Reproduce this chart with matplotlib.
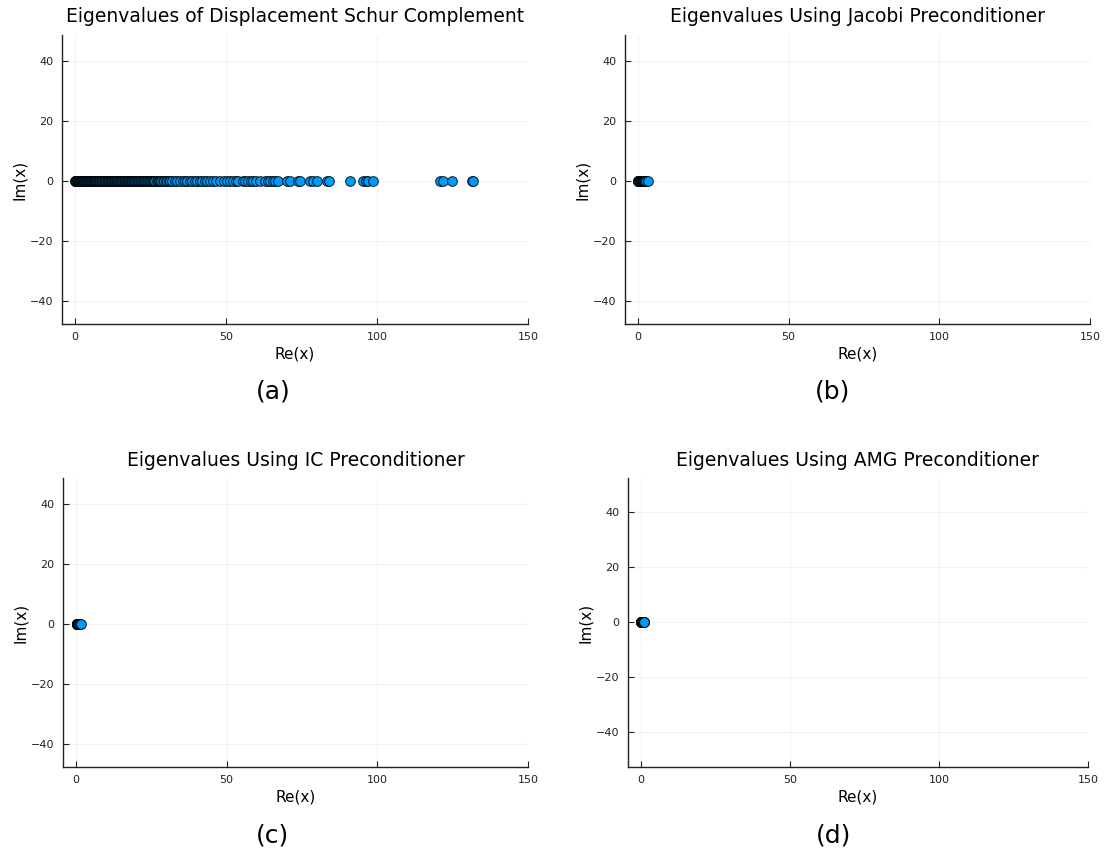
import matplotlib
matplotlib.use("Agg")
import matplotlib.pyplot as plt


schur_re = [0.02, 0.1, 0.2, 0.3, 0.4, 0.5, 0.6, 0.7, 0.8, 0.9, 1.0, 1.1, 1.2, 1.3,
            1.4, 1.5, 1.6, 1.7, 1.8, 1.9, 2.0, 2.1, 2.2, 2.3, 2.4, 2.5, 2.6, 2.7,
            2.8, 2.9, 3.0, 3.15, 3.3, 3.45, 3.6, 3.75, 3.9, 4.05, 4.2, 4.35, 4.5,
            4.65, 4.8, 4.95, 5.1, 5.25, 5.4, 5.55, 5.7, 5.85, 6.0, 6.15, 6.3, 6.45,
            6.6, 6.75, 6.9, 7.05, 7.2, 7.4, 7.6, 7.8, 8.0, 8.2, 8.4, 8.6, 8.8, 9.0,
            9.2, 9.4, 9.6, 9.8, 10.0, 10.2, 10.4, 10.6, 10.8, 11.0, 11.2, 11.4,
            11.6, 11.8, 12.0, 12.2, 12.4, 12.6, 12.8, 13.0, 13.2, 13.4, 13.6, 13.8,
            14.0, 14.2, 14.4, 14.6, 14.8, 15.0, 15.2, 15.4, 15.6, 15.8, 16.0, 16.2,
            16.4, 16.6, 16.8, 17.0, 17.2, 17.4, 17.6, 17.8, 18.0, 18.2, 18.4, 18.6,
            18.8, 19.0, 19.2, 19.4, 19.6, 19.8, 20.0, 20.25, 20.5, 20.75, 21.0,
            21.25, 21.5, 21.75, 22.0, 22.25, 22.5, 22.75, 23.0, 23.3, 23.6, 23.9,
            24.2, 24.5, 24.8, 25.1, 25.4, 25.7, 26.0, 26.3, 26.6, 27.0, 27.4, 27.8,
            28.2, 28.6, 29.0, 29.5, 30.0, 30.5, 31.0, 31.5, 32.2, 33.0, 33.8, 34.8,
            35.6, 36.4, 37.2, 38.0, 38.8, 39.7, 40.5, 41.4, 42.2, 43.0, 43.8, 44.7,
            45.7, 46.8, 48.0, 49.2, 50.3, 51.2, 52.3, 53.2, 54.0, 55.6, 56.4, 57.3,
            58.2, 59.0, 60.1, 61.3, 62.9, 63.8, 64.6, 65.4, 66.2, 67.2, 70.2, 71.2,
            73.8, 74.4, 77.8, 78.8, 80.1, 83.4, 84.0, 91.0, 95.4, 96.2, 96.9, 98.7,
            120.9, 121.8, 124.8, 131.5, 131.9]
jacobi_re = [0.0, 0.05, 0.1, 0.15, 0.2, 0.25, 0.3, 0.35, 0.4, 0.45, 0.5, 0.55, 0.6,
             0.65, 0.7, 0.75, 0.8, 0.85, 0.9, 0.95, 1.0, 1.05, 1.1, 1.15, 1.2,
             1.25, 1.3, 1.35, 1.4, 1.45, 1.5, 1.55, 1.6, 1.65, 1.7, 1.75, 1.8,
             1.85, 1.9, 1.95, 2.0, 2.1, 2.2, 2.35, 2.5, 2.8, 3.3]
ic_re = [0.25, 0.28, 0.3, 0.33, 0.35, 0.38, 0.4, 0.43, 0.45, 0.48, 0.5, 0.53,
         0.55, 0.58, 0.6, 0.63, 0.65, 0.68, 0.7, 0.73, 0.75, 0.78, 0.8, 0.83,
         0.85, 0.88, 0.9, 0.93, 0.95, 0.98, 1.0, 1.05, 1.1, 1.2, 1.4, 1.8]
amg_re = [0.0, 0.02, 0.05, 0.08, 0.1, 0.13, 0.15, 0.18, 0.2, 0.23, 0.25, 0.28,
          0.3, 0.33, 0.35, 0.38, 0.4, 0.43, 0.45, 0.48, 0.5, 0.53, 0.55, 0.58,
          0.6, 0.65, 0.7, 0.75, 0.8, 0.85, 0.9, 0.95, 1.0]

titles = ["Eigenvalues of Displacement Schur Complement",
          "Eigenvalues Using Jacobi Preconditioner",
          "Eigenvalues Using IC Preconditioner",
          "Eigenvalues Using AMG Preconditioner"]
captions = ["(a)", "(b)", "(c)", "(d)"]
xticks = [0, 50, 100, 150]
yticks = [-40, -20, 0, 20, 40]

W, H = 1105, 856
# axes boxes in pixels: left, right, top, bottom
boxes = [(62, 528, 35, 324), (625, 1090, 35, 324),
         (63, 528, 478, 767), (628, 1088, 478, 767)]
xlims = [(-4.3, 150), (-4.3, 150), (-4.3, 150), (-4.4, 150)]
ylims = [(-47.5, 48.5), (-47.5, 48.5), (-47.5, 48.5), (-52.6, 52.5)]
caption_pos = [(273, 392), (833, 392), (273, 835), (834, 835)]

fig = plt.figure(figsize=(W / 100, H / 100), dpi=100)

for i, re in enumerate([schur_re, jacobi_re, ic_re, amg_re]):
    l, r, t, b = boxes[i]
    ax = fig.add_axes([l / W, 1 - b / H, (r - l) / W, (b - t) / H])
    ax.plot(re, [0] * len(re), "o", ls="none", ms=7, color="#009AFA",
            mec=(0, 0, 0, 0.85), mew=0.7, zorder=3)
    ax.set_xlim(*xlims[i])
    ax.set_ylim(*ylims[i])
    ax.set_xticks(xticks)
    ax.set_yticks(yticks)
    ax.set_yticklabels(["\u221240", "\u221220", "0", "20", "40"])
    ax.grid(True, color="black", alpha=0.05, lw=0.8)
    ax.set_axisbelow(True)
    for pos in ["top", "right"]:
        ax.spines[pos].set_visible(False)
    for pos in ["left", "bottom"]:
        ax.spines[pos].set_linewidth(1.0)
        ax.spines[pos].set_color("#222222")
    ax.tick_params(direction="in", length=4, width=0.8, labelsize=8, pad=6,
                   colors="#222222")
    ax.set_title(titles[i], fontsize=13.5, pad=9)
    ax.set_xlabel("Re(x)", fontsize=11, labelpad=3)
    ax.set_ylabel("Im(x)", fontsize=11, labelpad=2)
    cx, cy = caption_pos[i]
    fig.text(cx / W, 1 - cy / H, captions[i], fontsize=18, ha="center", va="center")

fig.savefig("out.png", dpi=100)
